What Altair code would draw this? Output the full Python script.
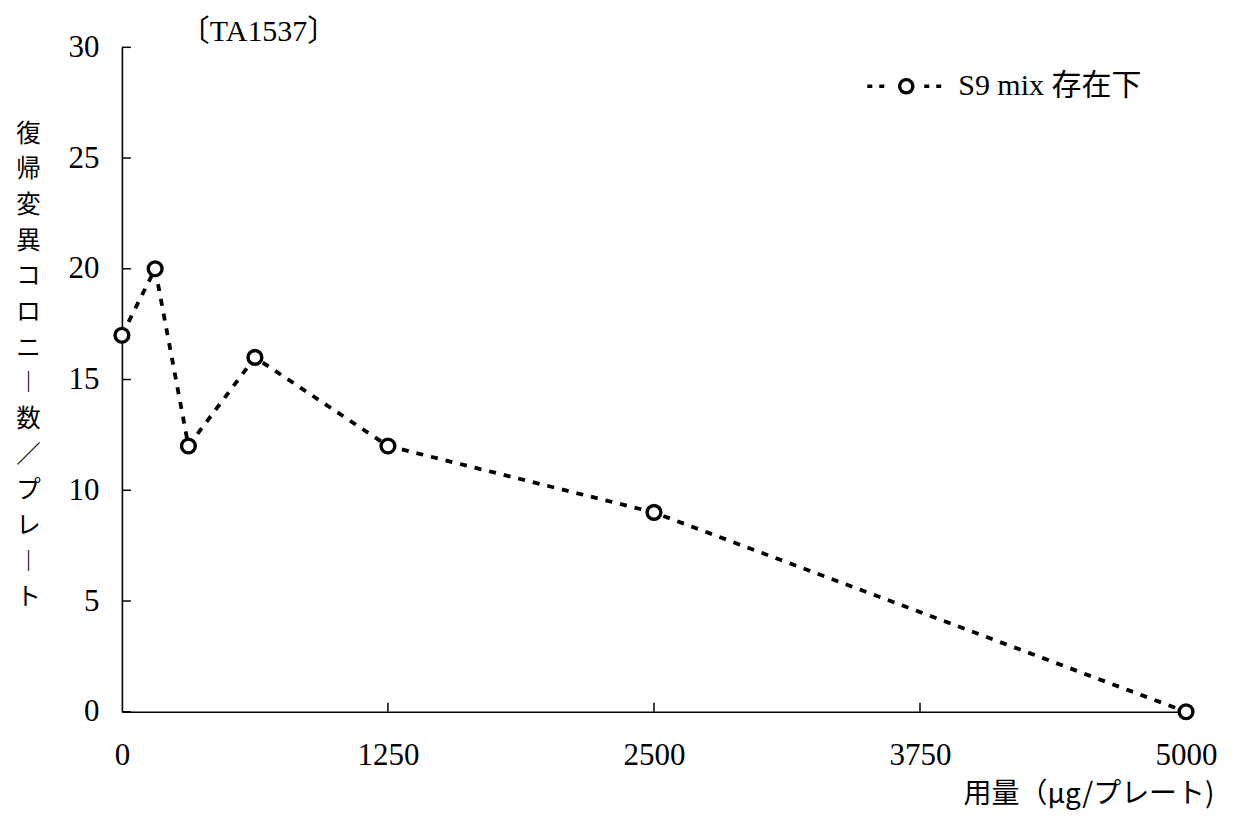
import altair as alt
import pandas as pd

# Data
doses = [0, 156.25, 312.5, 625, 1250, 2500, 5000]
counts = [17, 20, 12, 16, 12, 9, 0]
y_ticks = [0, 5, 10, 15, 20, 25, 30]
x_ticks = [0, 1250, 2500, 3750, 5000]
x_inner_ticks = [1250, 2500, 3750]
y_title_chars = ["復", "帰", "変", "異", "コ", "ロ", "ニ", "︱", "数", "／", "プ", "レ", "︱", "ト"]
x_title = "用量（μg/プレート)"
panel_label = "〔TA1537〕"
series_label = "S9 mix 存在下"

W, H = 1065, 665
SERIF = "Liberation Serif, Noto Sans CJK JP"
CJK = "Noto Sans CJK JP, Liberation Serif"

df = pd.DataFrame({"dose": doses, "count": counts})
xs = alt.Scale(domain=[0, 5000], nice=False, zero=False)
ys = alt.Scale(domain=[0, 30], nice=False)

x_enc = alt.X(
    "dose:Q", scale=xs,
    axis=alt.Axis(
        values=x_ticks, format="d", ticks=False, grid=False, tickSize=0,
        labelFont=SERIF, labelFontSize=31, labelColor="black", labelPadding=29,
        labelFlush=False, labelBaseline="top",
        domainColor="black", domainWidth=1.6,
        title=x_title, titleFont=CJK, titleFontSize=28, titleFontWeight="normal",
        titleColor="black", titleAnchor="end", titleAlign="right",
        titleX=1093, titleY=83, titleBaseline="middle",
    ),
)
y_enc = alt.Y(
    "count:Q", scale=ys,
    axis=alt.Axis(
        values=y_ticks, ticks=False, grid=False, tickSize=0,
        labelFont=SERIF, labelFontSize=31, labelColor="black", labelPadding=23,
        labelFlush=False,
        domainColor="black", domainWidth=1.6,
        title=y_title_chars, titleFont=CJK, titleFontSize=24.5, titleFontWeight="normal",
        titleColor="black", titleAngle=0, titleAlign="center", titleBaseline="top",
        titleLineHeight=35.7, titleX=-94, titleY=75,
    ),
)

line = alt.Chart(df).mark_line(
    color="black", strokeWidth=3.8, strokeDash=[7, 8]
).encode(x=x_enc, y=y_enc)

points = alt.Chart(df).mark_point(
    shape="circle", size=190, filled=False, fill="white", fillOpacity=1,
    stroke="black", strokeWidth=3.4, opacity=1
).encode(x=alt.X("dose:Q", scale=xs), y=alt.Y("count:Q", scale=ys))

ytick_df = pd.DataFrame({"v": y_ticks})
yticks = alt.Chart(ytick_df).mark_rule(color="black", strokeWidth=1.5).encode(
    y=alt.Y("v:Q", scale=ys), x=alt.value(0), x2=alt.value(9)
)
xtick_df = pd.DataFrame({"v": x_inner_ticks})
xticks = alt.Chart(xtick_df).mark_rule(color="black", strokeWidth=1.5).encode(
    x=alt.X("v:Q", scale=xs), y=alt.value(H), y2=alt.value(H - 9)
)

lab_df = pd.DataFrame({"t": [panel_label], "s": [series_label]})
panel = alt.Chart(lab_df).mark_text(
    font=SERIF, fontSize=30, align="left", baseline="middle", color="black"
).encode(text="t:N", x=alt.value(58), y=alt.value(-15))

leg_line_l = alt.Chart(lab_df).mark_rule(
    color="black", strokeWidth=3.5, strokeDash=[5, 7]
).encode(x=alt.value(746), x2=alt.value(765), y=alt.value(39))
leg_line_r = alt.Chart(lab_df).mark_rule(
    color="black", strokeWidth=3.5, strokeDash=[5, 7]
).encode(x=alt.value(803), x2=alt.value(822), y=alt.value(39))
leg_pt = alt.Chart(lab_df).mark_point(
    shape="circle", size=175, filled=False, fill="white", fillOpacity=1,
    stroke="black", strokeWidth=3.4, opacity=1
).encode(x=alt.value(785), y=alt.value(39))
leg_txt = alt.Chart(lab_df).mark_text(
    font=SERIF, fontSize=30, align="left", baseline="middle", color="black"
).encode(text="s:N", x=alt.value(837), y=alt.value(39))

chart = alt.layer(
    yticks, xticks, line, points, panel, leg_line_l, leg_line_r, leg_pt, leg_txt
).properties(
    width=W, height=H,
    autosize=alt.AutoSizeParams(type="none"),
    padding={"left": 114, "top": 39, "right": 40, "bottom": 104},
    background="white",
).configure_view(stroke=None)

chart.save("out.html", embed_options={"renderer": "svg", "actions": False})
